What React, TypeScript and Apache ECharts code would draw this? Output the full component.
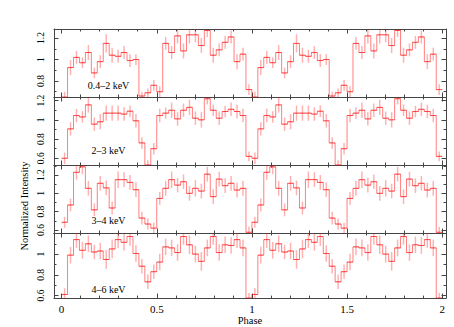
import React, { useEffect, useRef } from "react";
import * as echarts from "echarts";

// Energy bands (panel labels)
const bands = ["0.4–2 keV", "2–3 keV", "3–4 keV", "4–6 keV"];

// Normalized intensity per phase bin (32 bins over one cycle)
const rate1 = [0.65, 0.925, 1.02, 0.97, 1.065, 0.875, 0.98, 1.15, 1.04, 1.03, 1.065, 0.99, 1.0, 0.66, 0.69, 0.76,
  0.70, 1.15, 1.065, 1.22, 1.08, 1.23, 1.23, 1.13, 1.27, 1.04, 1.09, 1.16, 1.21, 0.98, 1.05, 0.72];
const err1 = [0.05, 0.07, 0.06, 0.05, 0.07, 0.05, 0.06, 0.085, 0.07, 0.06, 0.06, 0.06, 0.05, 0.04, 0.04, 0.05,
  0.05, 0.06, 0.06, 0.07, 0.07, 0.08, 0.07, 0.07, 0.06, 0.07, 0.06, 0.06, 0.06, 0.07, 0.06, 0.05];

const rate2 = [0.60, 0.906, 1.045, 1.03, 1.156, 0.955, 0.98, 1.07, 1.07, 1.07, 1.06, 1.09, 0.99, 0.76, 0.53, 0.70,
  1.045, 1.07, 1.10, 1.01, 1.10, 1.13, 1.017, 1.0, 1.22, 1.10, 1.017, 1.087, 1.11, 1.087, 1.045, 0.62];
const err2 = [0.06, 0.07, 0.07, 0.06, 0.08, 0.07, 0.08, 0.08, 0.08, 0.08, 0.07, 0.06, 0.07, 0.06, 0.05, 0.06,
  0.07, 0.06, 0.08, 0.07, 0.07, 0.08, 0.07, 0.08, 0.06, 0.06, 0.07, 0.06, 0.07, 0.07, 0.07, 0.05];

const rate3 = [0.684, 0.873, 1.23, 1.29, 1.055, 0.82, 1.11, 1.06, 0.84, 1.15, 1.15, 1.12, 1.04, 0.73, 0.665, 0.62,
  0.945, 1.055, 1.15, 1.09, 1.127, 1.0, 1.055, 1.025, 1.21, 0.964, 1.156, 1.084, 1.11, 1.036, 1.055, 0.575];
const err3 = [0.06, 0.07, 0.08, 0.08, 0.08, 0.07, 0.08, 0.08, 0.07, 0.09, 0.08, 0.08, 0.08, 0.07, 0.06, 0.06,
  0.07, 0.08, 0.09, 0.08, 0.08, 0.08, 0.09, 0.08, 0.08, 0.08, 0.08, 0.08, 0.08, 0.08, 0.08, 0.06];

const rate4 = [0.61, 0.99, 1.14, 1.037, 1.10, 1.02, 1.03, 0.948, 1.05, 1.14, 1.114, 1.17, 1.006, 0.883, 0.732, 0.83,
  0.923, 1.07, 1.06, 1.015, 1.17, 1.09, 1.0, 0.93, 1.06, 1.17, 1.015, 1.09, 1.083, 1.14, 1.06, 0.575];
const err4 = [0.06, 0.08, 0.08, 0.08, 0.08, 0.07, 0.08, 0.09, 0.09, 0.08, 0.08, 0.09, 0.08, 0.07, 0.07, 0.07,
  0.08, 0.08, 0.08, 0.08, 0.08, 0.09, 0.08, 0.09, 0.08, 0.08, 0.08, 0.08, 0.08, 0.08, 0.08, 0.05];

const rates = [rate1, rate2, rate3, rate4];
const errs = [err1, err2, err3, err4];

// Axis ranges and ticks
const phaseMin = -0.04;
const phaseMax = 2.02;
const cycles = 2;
const phaseMajor = [0, 0.5, 1, 1.5, 2];
const phaseMinor = [0.1, 0.2, 0.3, 0.4, 0.6, 0.7, 0.8, 0.9, 1.1, 1.2, 1.3, 1.4, 1.6, 1.7, 1.8, 1.9];
const yMins = [0.651, 0.53, 0.567, 0.575];
const yMaxs = [1.284, 1.238, 1.31, 1.204];
const yMajor = [0.6, 0.8, 1, 1.2];
const yMinor = [0.5, 0.7, 0.9, 1.1, 1.3];
const yLabelSets = [[0.8, 1, 1.2], [0.6, 0.8, 1, 1.2], [0.6, 0.8, 1, 1.2], [0.6, 0.8, 1]];

const FONT = "Liberation Serif";
const AX = "#444444";

export default function App() {
  const ref = useRef<HTMLDivElement>(null);

  useEffect(() => {
    if (!ref.current) return;
    const chart = echarts.init(ref.current, undefined, { renderer: "svg" });

    const panelTops = [29, 97, 165, 233];
    const panelH = 68;
    const grids = panelTops.map((t) => ({ left: 54, right: 8, top: t, height: panelH }));

    const xAxes: any[] = [];
    const yAxes: any[] = [];
    const series: any[] = [];

    for (let g = 0; g < 4; g++) {
      const inRange = (arr: number[]) => arr.filter((v) => v >= yMins[g] - 1e-9 && v <= yMaxs[g] + 1e-9);
      const mkX = (pos: string, major: boolean, labels: boolean) => ({
        type: "value",
        gridIndex: g,
        position: pos,
        min: phaseMin,
        max: phaseMax,
        axisLine: { show: major, onZero: false, lineStyle: { color: AX, width: 1 } },
        axisTick: {
          show: true,
          inside: true,
          length: major ? 4.5 : 2.5,
          customValues: major ? phaseMajor : phaseMinor,
          lineStyle: { color: AX, width: 1 },
        },
        axisLabel: {
          show: labels,
          customValues: phaseMajor,
          fontFamily: FONT,
          fontSize: 11,
          color: "#000",
          margin: 5,
          formatter: (v: number) => String(v),
        },
        splitLine: { show: false },
        name: labels ? "Phase" : "",
        nameLocation: "middle",
        nameGap: 16,
        nameTextStyle: { fontFamily: FONT, fontSize: 10.5, color: "#000" },
      });
      const mkY = (pos: string, major: boolean, labels: boolean) => ({
        type: "value",
        gridIndex: g,
        position: pos,
        min: yMins[g],
        max: yMaxs[g],
        axisLine: { show: major, onZero: false, lineStyle: { color: AX, width: 1 } },
        axisTick: {
          show: true,
          inside: true,
          length: major ? 4.5 : 2.5,
          customValues: inRange(major ? yMajor : yMinor),
          lineStyle: { color: AX, width: 1 },
        },
        axisLabel: {
          show: labels,
          customValues: yLabelSets[g],
          rotate: 90,
          fontFamily: FONT,
          fontSize: 9.5,
          color: "#000",
          margin: 8,
          formatter: (v: number) => String(Math.round(v * 10) / 10),
        },
        splitLine: { show: false },
      });

      xAxes.push(mkX("bottom", true, g === 3));
      xAxes.push(mkX("bottom", false, false));
      xAxes.push(mkX("top", true, false));
      xAxes.push(mkX("top", false, false));
      yAxes.push(mkY("left", true, true));
      yAxes.push(mkY("left", false, false));
      yAxes.push(mkY("right", true, false));
      yAxes.push(mkY("right", false, false));

      const vals = rates[g];
      const es = errs[g];
      const n = vals.length;
      const stepData: number[][] = [];
      const barData: number[][] = [];
      for (let c = 0; c < cycles; c++) {
        for (let i = 0; i < n; i++) {
          stepData.push([c + i / n, vals[i]]);
          barData.push([c + (i + 0.5) / n, vals[i], es[i]]);
        }
      }
      stepData.push([cycles, vals[n - 1]]);
      const halfW = 0.5 / n;

      series.push({
        type: "line",
        xAxisIndex: 4 * g,
        yAxisIndex: 4 * g,
        step: "end",
        data: stepData,
        symbol: "none",
        silent: true,
        clip: true,
        lineStyle: { color: "rgba(255,0,0,0.5)", width: 1 },
      });
      series.push({
        type: "custom",
        xAxisIndex: 4 * g,
        yAxisIndex: 4 * g,
        data: barData,
        silent: true,
        clip: true,
        renderItem: (params: any, api: any) => {
          const x = api.value(0);
          const y = api.value(1);
          const e = api.value(2);
          const top = api.coord([x, y + e]);
          const bot = api.coord([x, y - e]);
          const l = api.coord([x - halfW, y]);
          const r = api.coord([x + halfW, y]);
          return {
            type: "group",
            children: [
              {
                type: "line",
                shape: { x1: top[0], y1: top[1], x2: bot[0], y2: bot[1] },
                style: { stroke: "rgba(255,0,0,0.3)", lineWidth: 1.5 },
              },
              {
                type: "line",
                shape: { x1: l[0], y1: l[1], x2: r[0], y2: r[1] },
                style: { stroke: "rgba(255,0,0,0.4)", lineWidth: 1 },
              },
            ],
          };
        },
      });
    }

    const labelYs = [85, 150, 220, 289];
    const graphics: any[] = bands.map((b, i) => ({
      type: "text",
      x: 108.5,
      y: labelYs[i],
      style: {
        text: b,
        fontFamily: FONT,
        fontSize: 10,
        fill: "#000",
        textAlign: "center",
        textVerticalAlign: "middle",
      },
    }));
    graphics.push({
      type: "text",
      x: 24,
      y: 206,
      rotation: Math.PI / 2,
      style: {
        text: "Normalized Intensity",
        fontFamily: FONT,
        fontSize: 10.5,
        fill: "#000",
        textAlign: "center",
        textVerticalAlign: "middle",
      },
    });

    chart.setOption({
      animation: false,
      backgroundColor: "#ffffff",
      grid: grids,
      xAxis: xAxes,
      yAxis: yAxes,
      series,
      graphic: graphics,
    });

    return () => chart.dispose();
  }, []);

  return (
    <div
      ref={ref}
      style={{ position: "absolute", left: 0, top: 0, width: 454, height: 327 }}
    />
  );
}
